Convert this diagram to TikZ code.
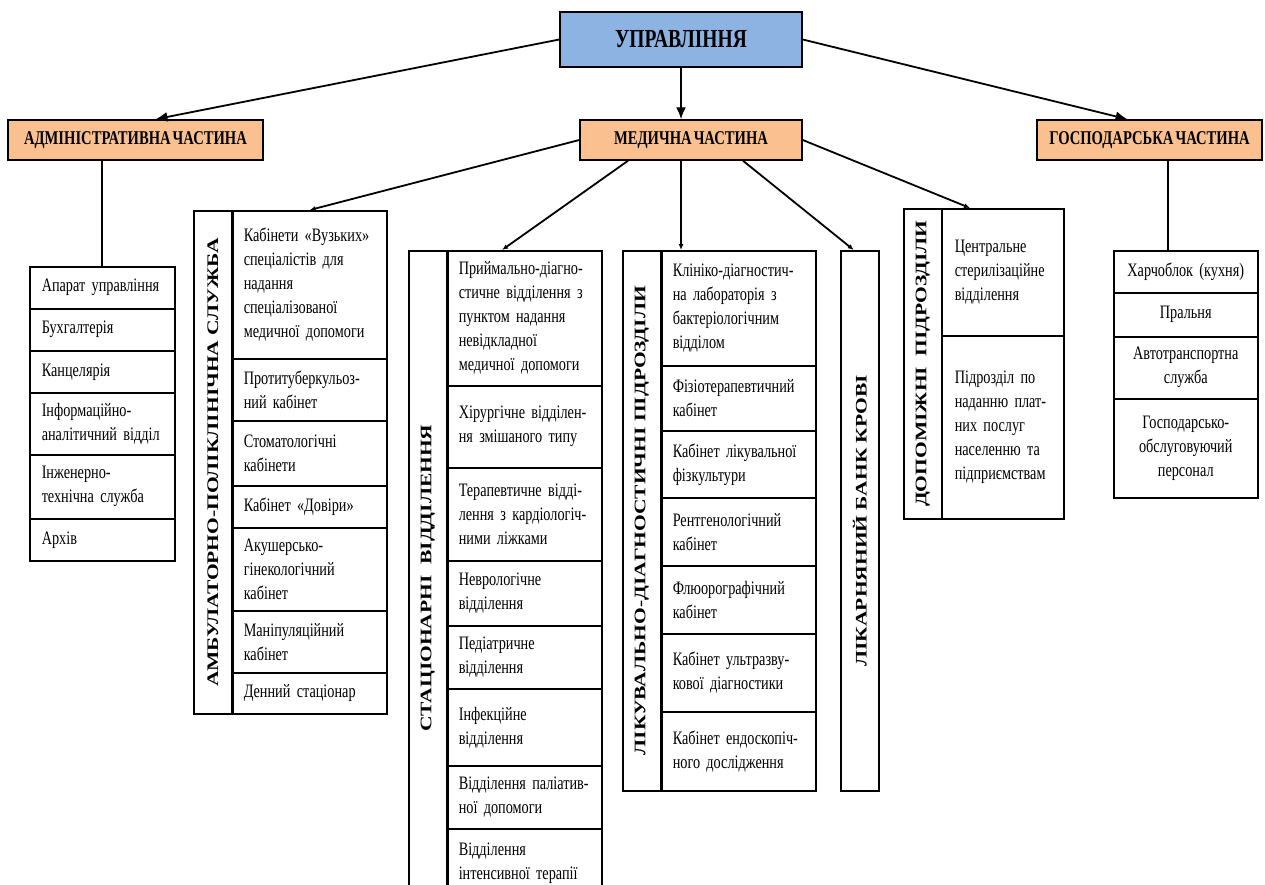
\documentclass[tikz,border=0pt]{standalone}
\usepackage{fontspec}
\usepackage{graphicx}
\setmainfont{Liberation Serif}[FakeStretch=0.75, WordSpace=0.55]
\newfontfamily\rotfont{Liberation Serif}
\usetikzlibrary{arrows.meta}
\definecolor{uprblue}{HTML}{8DB3E2}
\definecolor{partorange}{HTML}{FAC090}
\newcommand\celltext{\fontsize{19}{24}\selectfont}
\newcommand\vtext[1]{\rotatebox{90}{\scalebox{1}[0.75]{\rotfont\bfseries\fontsize{21.5}{24}\selectfont #1}}}

\begin{document}
\begin{tikzpicture}[x=1pt, y=-1pt,
  box/.style={draw, line width=1.5pt, inner sep=0pt},
  cell/.style={box, anchor=north west, inner xsep=11pt, align=left, font=\celltext},
  ambc/.style={cell, text width=132pt},
  admc/.style={cell, inner xsep=12pt, text width=121pt},
  auxc/.style={cell, inner xsep=13pt, text width=96pt},
  gosc/.style={cell, inner xsep=5pt, text width=134pt, align=center},
  vlab/.style={box, anchor=north west, minimum width=38pt},
  part/.style={box, fill=partorange, minimum height=40pt, font=\bfseries\fontsize{19.5}{22}\selectfont},
  big/.style={line width=1.8pt, -{Latex[length=12pt,width=10pt]}},
  link/.style={line width=1.8pt, -{Latex[length=6pt,width=5pt]}}]
  \useasboundingbox (0,0) rectangle (1265,884);
  \clip (0,0) rectangle (1265,884);

  % top levels
  \node[box, fill=uprblue, minimum width=242pt, minimum height=55pt,
        font=\bfseries\fontsize{26}{28}\selectfont] (upr) at (681,39.5) {УПРАВЛІННЯ};
  \node[part, minimum width=255pt] (adm) at (135.5,140) {АДМІНІСТРАТИВНА ЧАСТИНА};
  \node[part, minimum width=222pt] (med) at (691,140) {МЕДИЧНА ЧАСТИНА};
  \node[part, minimum width=225pt] (gosp) at (1149.5,140) {ГОСПОДАРСЬКА ЧАСТИНА};

  % administrative part
  \node[admc, minimum height=42pt] (adm1) at (29,266) {Апарат управління};
  \node[admc, minimum height=42pt] (adm2) at (29,308) {Бухгалтерія};
  \node[admc, minimum height=42pt] (adm3) at (29,350) {Канцелярія};
  \node[admc, minimum height=62pt] (adm4) at (29,392) {Інформаційно-\\аналітичний відділ};
  \node[admc, minimum height=64pt] (adm5) at (29,454) {Інженерно-\\технічна служба};
  \node[admc, minimum height=42pt] (adm6) at (29,518) {Архів};

  % ambulatory service
  \node[vlab, minimum height=503pt] (ambl) at (193,210) {\vtext{АМБУЛАТОРНО-ПОЛІКЛІНІЧНА СЛУЖБА}};
  \node[ambc, minimum height=148pt] (amb1) at (232,210) {Кабінети «Вузьких»\\спеціалістів для\\надання\\спеціалізованої\\медичної допомоги};
  \node[ambc, minimum height=62pt] (amb2) at (232,358) {Протитуберкульоз-\\ний кабінет};
  \node[ambc, minimum height=65pt] (amb3) at (232,420) {Стоматологічні\\кабінети};
  \node[ambc, minimum height=42pt] (amb4) at (232,485) {Кабінет «Довіри»};
  \node[ambc, minimum height=83pt] (amb5) at (232,527) {Акушерсько-\\гінекологічний\\кабінет};
  \node[ambc, minimum height=62pt] (amb6) at (232,610) {Маніпуляційний\\кабінет};
  \node[ambc, minimum height=41pt] (amb7) at (232,672) {Денний стаціонар};

  % inpatient departments
  \node[vlab, minimum height=655pt] (statl) at (408,250) {\vtext{СТАЦІОНАРНІ~ ВІДДІЛЕННЯ}};
  \node[ambc, minimum height=135pt] (stat1) at (447,250) {Приймально-діагно-\\стичне відділення з\\пунктом надання\\невідкладної\\медичної допомоги};
  \node[ambc, minimum height=82pt] (stat2) at (447,385) {Хірургічне відділен-\\ня змішаного типу};
  \node[ambc, minimum height=93pt] (stat3) at (447,467) {Терапевтичне відді-\\лення з кардіологіч-\\ними ліжками};
  \node[ambc, minimum height=65pt] (stat4) at (447,560) {Неврологічне\\відділення};
  \node[ambc, minimum height=63pt] (stat5) at (447,625) {Педіатричне\\відділення};
  \node[ambc, minimum height=77pt] (stat6) at (447,688) {Інфекційне\\відділення};
  \node[ambc, minimum height=63pt] (stat7) at (447,765) {Відділення паліатив-\\ної допомоги};
  \node[ambc, minimum height=68pt] (stat8) at (447,828) {Відділення\\інтенсивної терапії};

  % diagnostic units
  \node[vlab, minimum height=540pt] (diagl) at (622,250) {\vtext{ЛІКУВАЛЬНО-ДІАГНОСТИЧНІ ПІДРОЗДІЛИ}};
  \node[ambc, minimum height=115pt] (diag1) at (661,250) {Клініко-діагностич-\\на лабораторія з\\бактеріологічним\\відділом};
  \node[ambc, minimum height=65pt] (diag2) at (661,365) {Фізіотерапевтичний\\кабінет};
  \node[ambc, minimum height=67pt] (diag3) at (661,430) {Кабінет лікувальної\\фізкультури};
  \node[ambc, minimum height=68pt] (diag4) at (661,497) {Рентгенологічний\\кабінет};
  \node[ambc, minimum height=68pt] (diag5) at (661,565) {Флюорографічний\\кабінет};
  \node[ambc, minimum height=78pt] (diag6) at (661,633) {Кабінет ультразву-\\кової діагностики};
  \node[ambc, minimum height=79pt] (diag7) at (661,711) {Кабінет ендоскопіч-\\ного дослідження};

  % blood bank
  \node[vlab, minimum height=540pt] (bank) at (840,250) {\vtext{ЛІКАРНЯНИЙ БАНК КРОВІ}};

  % auxiliary units
  \node[vlab, minimum height=310pt] (auxl) at (903,208) {\vtext{ДОПОМІЖНІ~ ПІДРОЗДІЛИ}};
  \node[auxc, minimum height=127pt] (aux1) at (941,208) {Центральне\\стерилізаційне\\відділення};
  \node[auxc, minimum height=183pt] (aux2) at (941,335) {Підрозділ по\\наданню плат-\\них послуг\\населенню та\\підприємствам};

  % household part
  \node[gosc, minimum height=42pt] (gos1) at (1113,250) {Харчоблок (кухня)};
  \node[gosc, minimum height=44pt] (gos2) at (1113,292) {Пральня};
  \node[gosc, minimum height=62pt] (gos3) at (1113,336) {Автотранспортна\\служба};
  \node[gosc, minimum height=99pt] (gos4) at (1113,398) {Господарсько-\\обслуговуючий\\персонал};

  % connectors
  \draw[big] (upr.west) -- ([xshift=20pt]adm.north);
  \draw[big] (upr.south) -- (upr.south |- med.north);
  \draw[big] (upr.east) -- ([xshift=-22pt]gosp.north);
  \draw[line width=1.8pt] (adm.south -| adm1.north) -- (adm1.north);
  \draw[line width=1.8pt] (gosp.south -| 1168,0) -- (gos1.north -| 1168,0);
  \draw[link] (med.west) -- (amb1.north);
  \draw[link] ([xshift=-63pt]med.south) -- ([xshift=55pt]stat1.north west);
  \draw[link] (upr.south |- med.south) -- (upr.south |- diag1.north);
  \draw[link] ([xshift=52pt]med.south) -- ([xshift=-6pt]bank.north);
  \draw[link] (med.east) -- ([xshift=29pt]aux1.north west);
\end{tikzpicture}
\end{document}
